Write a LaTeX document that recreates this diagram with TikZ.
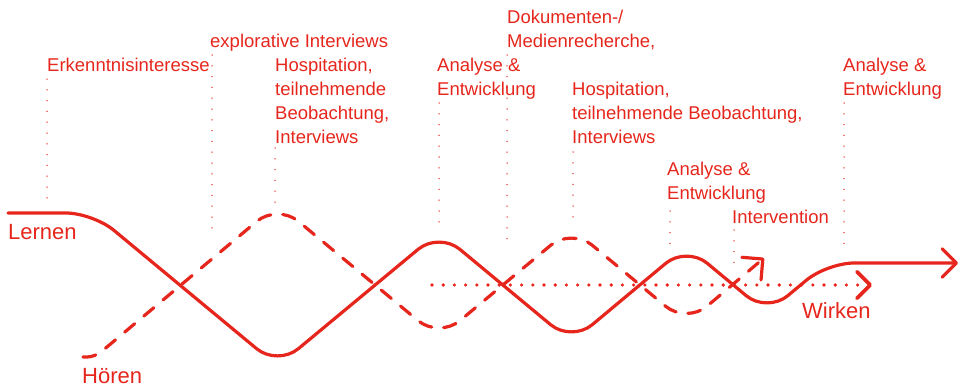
\documentclass[tikz,border=0pt]{standalone}
\usepackage{fontspec}
\setmainfont{Liberation Sans}
\usetikzlibrary{arrows.meta}
\definecolor{accent}{RGB}{230,38,28}
\begin{document}
\begin{tikzpicture}[x=1pt,y=-1pt,
  wave/.style={draw=accent, line width=3.2pt, line cap=round, line join=round},
  solidwave/.style={wave, rounded corners=27pt},
  dashwave/.style={wave, dash pattern=on 13pt off 12pt},
  dotline/.style={draw=accent, line width=3.6pt, line cap=round, dash pattern=on 0pt off 11.2pt},
  leader/.style={draw=accent, line width=1.5pt, line cap=round, dash pattern=on 0pt off 10.8pt},
  lbl/.style={text=accent, font=\fontsize{18.5}{24}\selectfont, align=left, anchor=base west, inner sep=0pt},
  biglbl/.style={text=accent, font=\fontsize{22}{26}\selectfont, anchor=base west, inner sep=0pt},
  barbend/.style={-{Straight Barb[angle=90:#1, round]}},
]
\useasboundingbox (0,0) rectangle (960,386);

% solid wave (Lernen)
\coordinate (s0) at (8,213);
\coordinate (s1) at (93,213);
\coordinate (s2) at (277.5,366);
\coordinate (s3) at (439,232);
\coordinate (s4) at (571.5,342);
\coordinate (s5) at (686.5,246);
\coordinate (s6) at (767,313);
\coordinate (s7) at (827,263);
\coordinate (s8) at (958,263);
\draw[solidwave, barbend=20pt] (s0) -- (s1) -- (s2) -- (s3) -- (s4) -- (s5) -- (s6) -- (s7) -- (s8);

% dashed wave (Hoeren)
\coordinate (d0) at (83,357);
\coordinate (d1) at (95,357);
\coordinate (d2) at (277.5,204);
\coordinate (d3) at (439,338);
\coordinate (d4) at (571.5,228);
\coordinate (d5) at (686.5,323.6);
\coordinate (d6) at (764,258);
\draw[dashwave, barbend=21pt] (d0) [rounded corners=8pt] -- (d1) [rounded corners=27pt] -- (d2) -- (d3) -- (d4) -- (d5) -- (d6);

% dotted line (Wirken)
\coordinate (w0) at (432,285);
\coordinate (w1) at (872,285);
\draw[dotline, barbend=19pt] (w0) -- (w1);

% labels (anchor = baseline of the last line)
\node[lbl] (t1) at (47,71) {Erkenntnisinteresse};
\node[lbl] (t2) at (210,47) {explorative Interviews};
\node[lbl] (t3) at (275,143) {Hospitation,\\teilnehmende\\Beobachtung,\\Interviews};
\node[lbl] (t4) at (437,95) {Analyse \&\\Entwicklung};
\node[lbl] (t5) at (507,47) {Dokumenten-/\\Medienrecherche,};
\node[lbl] (t6) at (572,143) {Hospitation,\\teilnehmende Beobachtung,\\Interviews};
\node[lbl] (t7) at (667,199) {Analyse \&\\Entwicklung};
\node[lbl] (t8) at (732,223) {Intervention};
\node[lbl] (t9) at (843,95) {Analyse \&\\Entwicklung};

\node[biglbl] (lernen) at (8,239) {Lernen};
\node[biglbl] (hoeren) at (82,383) {Hören};
\node[biglbl] (wirken) at (802,318) {Wirken};

% leaders
\coordinate (a1) at (47,79);   \coordinate (b1) at (47,203);
\coordinate (a2) at (212,55);  \coordinate (b2) at (212,238);
\coordinate (a3) at (275,148); \coordinate (b3) at (275,203);
\coordinate (a4) at (439,103); \coordinate (b4) at (439,230);
\coordinate (a5) at (507,55);  \coordinate (b5) at (507,247);
\coordinate (a6) at (573,152); \coordinate (b6) at (573,223);
\coordinate (a7) at (670,211); \coordinate (b7) at (670,247);
\coordinate (a8) at (734,230); \coordinate (b8) at (734,270);
\coordinate (a9) at (844,103); \coordinate (b9) at (844,254);
\foreach \i in {1,...,9} {\draw[leader] (a\i) -- (b\i);}
\end{tikzpicture}
\end{document}
